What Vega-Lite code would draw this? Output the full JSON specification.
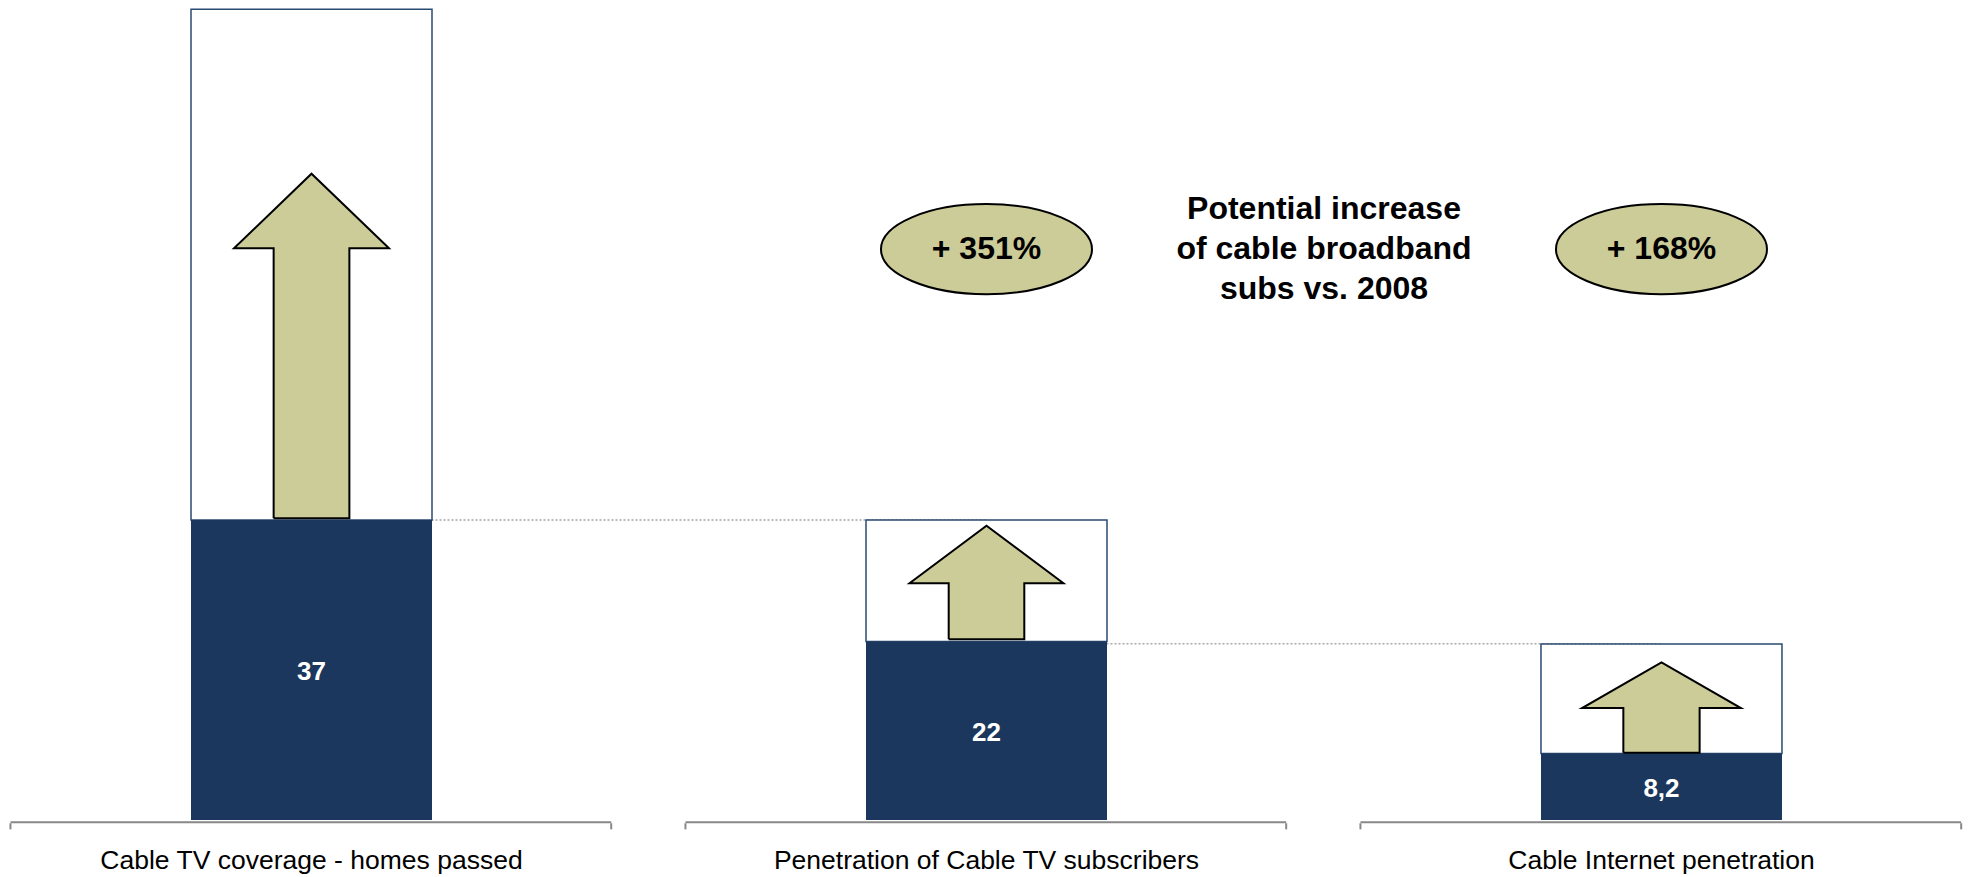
{
  "$schema": "https://vega.github.io/schema/vega-lite/v6.json",
  "width": 1968,
  "height": 877,
  "autosize": {"type": "none"},
  "padding": 0,
  "background": "white",
  "config": {"view": {"stroke": null}, "font": "Liberation Sans", "scale": {"continuousPadding": 0}},
  "datasets": {
    "bars": [
      {"category": "Cable TV coverage - homes passed", "pos": 0.5, "value": 37, "potential": 100, "label": "37"},
      {"category": "Penetration of Cable TV subscribers", "pos": 1.5, "value": 22, "potential": 37, "label": "22"},
      {"category": "Cable Internet penetration", "pos": 2.5, "value": 8.2, "potential": 21.7, "label": "8,2"}
    ],
    "arrows": [
      {"arrow": 1, "vertex": 1, "x": 0.4439, "y": 37.2},
      {"arrow": 1, "vertex": 2, "x": 0.4439, "y": 70.5},
      {"arrow": 1, "vertex": 3, "x": 0.3852, "y": 70.5},
      {"arrow": 1, "vertex": 4, "x": 0.5, "y": 79.7},
      {"arrow": 1, "vertex": 5, "x": 0.6148, "y": 70.5},
      {"arrow": 1, "vertex": 6, "x": 0.5561, "y": 70.5},
      {"arrow": 1, "vertex": 7, "x": 0.5561, "y": 37.2},
      {"arrow": 1, "vertex": 8, "x": 0.4439, "y": 37.2},
      {"arrow": 2, "vertex": 1, "x": 1.444, "y": 22.3},
      {"arrow": 2, "vertex": 2, "x": 1.444, "y": 29.2},
      {"arrow": 2, "vertex": 3, "x": 1.386, "y": 29.2},
      {"arrow": 2, "vertex": 4, "x": 1.5, "y": 36.3},
      {"arrow": 2, "vertex": 5, "x": 1.614, "y": 29.2},
      {"arrow": 2, "vertex": 6, "x": 1.556, "y": 29.2},
      {"arrow": 2, "vertex": 7, "x": 1.556, "y": 22.3},
      {"arrow": 2, "vertex": 8, "x": 1.444, "y": 22.3},
      {"arrow": 3, "vertex": 1, "x": 2.4435, "y": 8.3},
      {"arrow": 3, "vertex": 2, "x": 2.4435, "y": 13.8},
      {"arrow": 3, "vertex": 3, "x": 2.3824, "y": 13.8},
      {"arrow": 3, "vertex": 4, "x": 2.5, "y": 19.45},
      {"arrow": 3, "vertex": 5, "x": 2.6176, "y": 13.8},
      {"arrow": 3, "vertex": 6, "x": 2.5565, "y": 13.8},
      {"arrow": 3, "vertex": 7, "x": 2.5565, "y": 8.3},
      {"arrow": 3, "vertex": 8, "x": 2.4435, "y": 8.3}
    ],
    "connectors": [
      {"from": 0.5, "to": 1.5, "level": 37},
      {"from": 1.5, "to": 2.5, "level": 21.75}
    ],
    "growth": [
      {"pos": 1.5, "text": "+ 351%"},
      {"pos": 2.5, "text": "+ 168%"}
    ],
    "brackets": [
      {"start": 0.054, "end": 0.944},
      {"start": 1.054, "end": 1.944},
      {"start": 2.054, "end": 2.944}
    ],
    "note": [
      {"pos": 2.0, "text": ["Potential increase", "of cable broadband", "subs vs. 2008"]}
    ]
  },
  "layer": [
    {
      "data": {"name": "connectors"},
      "mark": {"type": "rule", "color": "#a6a6a6", "strokeWidth": 1.5, "strokeDash": [2, 2]},
      "encoding": {
        "x": {"field": "from", "type": "quantitative", "scale": {"domain": [0.0385, 2.9541], "nice": false, "zero": false, "padding": 0}, "axis": null},
        "x2": {"field": "to"},
        "y": {"field": "level", "type": "quantitative", "scale": {"domain": [-7.03, 101.13], "nice": false, "zero": false, "padding": 0}, "axis": null}
      }
    },
    {
      "data": {"name": "bars"},
      "mark": {"type": "bar", "size": 241, "fill": "white", "stroke": "#2a4a72", "strokeWidth": 1.5},
      "encoding": {
        "x": {"field": "pos", "type": "quantitative", "scale": {"domain": [0.0385, 2.9541], "nice": false, "zero": false, "padding": 0}, "axis": null},
        "y": {"field": "value", "type": "quantitative", "scale": {"domain": [-7.03, 101.13], "nice": false, "zero": false, "padding": 0}, "axis": null},
        "y2": {"field": "potential"}
      }
    },
    {
      "data": {"name": "bars"},
      "mark": {"type": "bar", "size": 241, "color": "#1b375d"},
      "encoding": {
        "x": {"field": "pos", "type": "quantitative", "scale": {"domain": [0.0385, 2.9541], "nice": false, "zero": false, "padding": 0}, "axis": null},
        "y": {"field": "value", "type": "quantitative", "scale": {"domain": [-7.03, 101.13], "nice": false, "zero": false, "padding": 0}, "axis": null},
        "y2": {"datum": 0}
      }
    },
    {
      "data": {"name": "arrows"},
      "mark": {"type": "line", "fill": "#cccc99", "stroke": "black", "strokeWidth": 2, "strokeJoin": "miter"},
      "encoding": {
        "x": {"field": "x", "type": "quantitative", "scale": {"domain": [0.0385, 2.9541], "nice": false, "zero": false, "padding": 0}, "axis": null},
        "y": {"field": "y", "type": "quantitative", "scale": {"domain": [-7.03, 101.13], "nice": false, "zero": false, "padding": 0}, "axis": null},
        "detail": {"field": "arrow", "type": "nominal"},
        "order": {"field": "vertex", "type": "quantitative"}
      }
    },
    {
      "data": {"name": "bars"},
      "transform": [{"calculate": "datum.value / 2", "as": "mid"}],
      "mark": {"type": "text", "color": "white", "fontSize": 26, "fontWeight": "bold", "baseline": "middle", "align": "center", "dy": 2},
      "encoding": {
        "x": {"field": "pos", "type": "quantitative", "scale": {"domain": [0.0385, 2.9541], "nice": false, "zero": false, "padding": 0}, "axis": null},
        "y": {"field": "mid", "type": "quantitative", "scale": {"domain": [-7.03, 101.13], "nice": false, "zero": false, "padding": 0}, "axis": null},
        "text": {"field": "label"}
      }
    },
    {
      "data": {"name": "growth"},
      "mark": {"type": "point", "shape": "M -1 0 A 1 0.427 0 1 1 1 0 A 1 0.427 0 1 1 -1 0 Z", "size": 44521, "filled": true, "fill": "#cccc99", "stroke": "black", "strokeWidth": 2, "opacity": 1},
      "encoding": {
        "x": {"field": "pos", "type": "quantitative", "scale": {"domain": [0.0385, 2.9541], "nice": false, "zero": false, "padding": 0}, "axis": null},
        "y": {"datum": 70.4, "type": "quantitative", "scale": {"domain": [-7.03, 101.13], "nice": false, "zero": false, "padding": 0}, "axis": null}
      }
    },
    {
      "data": {"name": "growth"},
      "mark": {"type": "text", "color": "black", "fontSize": 32, "fontWeight": "bold", "baseline": "middle", "align": "center"},
      "encoding": {
        "x": {"field": "pos", "type": "quantitative", "scale": {"domain": [0.0385, 2.9541], "nice": false, "zero": false, "padding": 0}, "axis": null},
        "y": {"datum": 70.4, "type": "quantitative", "scale": {"domain": [-7.03, 101.13], "nice": false, "zero": false, "padding": 0}, "axis": null},
        "text": {"field": "text"}
      }
    },
    {
      "data": {"name": "note"},
      "mark": {"type": "text", "color": "black", "fontSize": 32, "fontWeight": "bold", "baseline": "middle", "align": "center", "lineHeight": 40},
      "encoding": {
        "x": {"field": "pos", "type": "quantitative", "scale": {"domain": [0.0385, 2.9541], "nice": false, "zero": false, "padding": 0}, "axis": null},
        "y": {"datum": 75.3, "type": "quantitative", "scale": {"domain": [-7.03, 101.13], "nice": false, "zero": false, "padding": 0}, "axis": null},
        "text": {"field": "text"}
      }
    },
    {
      "data": {"name": "brackets"},
      "mark": {"type": "rule", "color": "#888888", "strokeWidth": 2},
      "encoding": {
        "x": {"field": "start", "type": "quantitative", "scale": {"domain": [0.0385, 2.9541], "nice": false, "zero": false, "padding": 0}, "axis": null},
        "x2": {"field": "end"},
        "y": {"datum": -0.28, "type": "quantitative", "scale": {"domain": [-7.03, 101.13], "nice": false, "zero": false, "padding": 0}, "axis": null}
      }
    },
    {
      "data": {"name": "brackets"},
      "mark": {"type": "rule", "color": "#888888", "strokeWidth": 2},
      "encoding": {
        "x": {"field": "start", "type": "quantitative", "scale": {"domain": [0.0385, 2.9541], "nice": false, "zero": false, "padding": 0}, "axis": null},
        "y": {"datum": -0.4, "type": "quantitative", "scale": {"domain": [-7.03, 101.13], "nice": false, "zero": false, "padding": 0}, "axis": null},
        "y2": {"datum": -1.15}
      }
    },
    {
      "data": {"name": "brackets"},
      "mark": {"type": "rule", "color": "#888888", "strokeWidth": 2},
      "encoding": {
        "x": {"field": "end", "type": "quantitative", "scale": {"domain": [0.0385, 2.9541], "nice": false, "zero": false, "padding": 0}, "axis": null},
        "y": {"datum": -0.4, "type": "quantitative", "scale": {"domain": [-7.03, 101.13], "nice": false, "zero": false, "padding": 0}, "axis": null},
        "y2": {"datum": -1.15}
      }
    },
    {
      "data": {"name": "bars"},
      "mark": {"type": "text", "color": "black", "fontSize": 26.5, "baseline": "middle", "align": "center"},
      "encoding": {
        "x": {"field": "pos", "type": "quantitative", "scale": {"domain": [0.0385, 2.9541], "nice": false, "zero": false, "padding": 0}, "axis": null},
        "y": {"datum": -5.06, "type": "quantitative", "scale": {"domain": [-7.03, 101.13], "nice": false, "zero": false, "padding": 0}, "axis": null},
        "text": {"field": "category"}
      }
    }
  ]
}
